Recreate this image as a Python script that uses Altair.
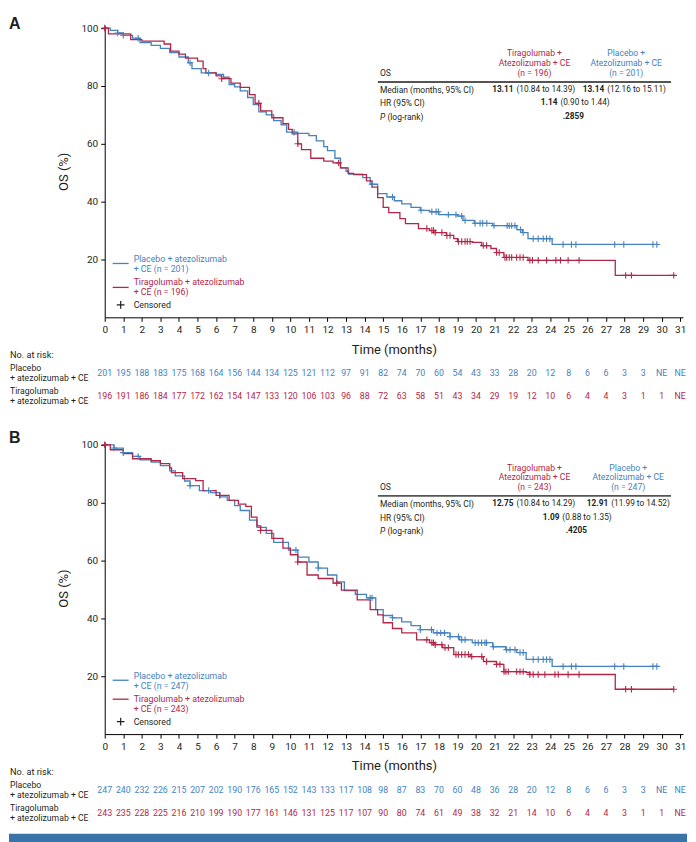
import bisect
import altair as alt
import pandas as pd

FONT = "Roboto"
BLUE = "#4682be"
RED = "#b22648"
INK = "#231f20"
BAR = "#3a73a8"
CROSS = "M0,-1L0,1M-1,0L1,0"

months = list(range(32))
y_ticks = [20, 40, 60, 80, 100]

# ---------------- Panel A data ----------------
A_pbo_curve = [(0, 100), (0.3, 99.2), (0.7, 98.3), (1.0, 97.5), (1.5, 96.5), (1.9, 95), (2.5, 94), (3.0, 93),
               (3.5, 91.5), (4.0, 90), (4.5, 88), (4.7, 86), (5.2, 84.5), (6.0, 84), (6.4, 83), (6.7, 80.5),
               (7.0, 79.7), (7.3, 78.3), (7.7, 76), (8.0, 73.5), (8.3, 71), (8.7, 70), (9.1, 68), (9.5, 66.5),
               (9.8, 64), (10.4, 63.6), (11.0, 62.8), (11.4, 61), (11.8, 59), (12.0, 57.6), (12.4, 55),
               (12.7, 51.7), (13.0, 50.5), (13.14, 49.5), (13.9, 48.3), (14.3, 46), (14.7, 42.8), (15.2, 41.6),
               (15.6, 40.3), (16.0, 39.2), (16.5, 38), (17.0, 37), (17.5, 36.5), (18.0, 35.5), (19.0, 35),
               (19.3, 33.5), (19.9, 32.5), (20.9, 31.7), (22.2, 30.3), (22.5, 29.3), (22.8, 27.2), (24.1, 25.2),
               (29.8, 25.2)]
A_tir_curve = [(0, 100), (0.2, 98), (1.4, 96), (2.0, 95.5), (3.2, 94.5), (3.55, 92), (4.0, 91), (4.35, 89.6),
               (5.0, 88.6), (5.3, 86), (5.45, 84.5), (6.0, 83.5), (6.3, 82.5), (6.8, 81), (7.3, 79.5), (7.8, 77),
               (8.1, 74), (8.4, 71.4), (9.0, 69), (9.6, 67), (9.9, 65), (10.1, 63.4), (10.4, 60), (10.6, 58),
               (11.1, 55), (11.8, 54), (12.3, 53.4), (12.7, 51.7), (13.11, 49.8), (13.4, 49.3), (14.1, 47.2),
               (14.4, 45), (14.7, 41.4), (15.0, 38), (15.3, 36.2), (15.9, 34.1), (16.2, 32.4), (16.9, 30.7),
               (17.5, 30), (17.8, 29.3), (18.4, 28.3), (18.8, 27.2), (19.0, 26.2), (19.8, 25.9), (20.3, 24.8),
               (20.8, 23.8), (21.1, 22.4), (21.5, 20.7), (22.8, 19.7), (27.5, 14.5), (30.65, 14.5)]
A_pbo_cens = [0.7, 1.0, 1.8, 4.6, 5.6, 10.2, 14.4, 15.5, 17.04, 17.62, 17.85, 17.97, 18.51, 18.92, 19.23, 19.41,
              19.95, 20.22, 20.36, 20.58, 20.97, 21.68, 21.79, 21.92, 22.1, 22.4, 22.54, 23.08, 23.35, 23.62,
              23.8, 23.98, 24.69, 25.14, 25.38, 27.47, 27.96, 29.53, 29.74]
A_tir_cens = [0.0, 6.3, 8.3, 10.4, 12.6, 17.35, 17.62, 17.71, 17.8, 18.16, 18.43, 18.6, 19.05, 19.23, 19.41,
              19.53, 19.68, 20.39, 20.57, 21.11, 21.25, 21.56, 21.65, 21.79, 21.92, 22.19, 22.37, 22.54, 22.9,
              23.04, 23.35, 23.8, 24.3, 24.55, 24.96, 25.55, 28.06, 28.37, 30.65]
A_pbo_risk = ["201", "195", "188", "183", "175", "168", "164", "156", "144", "134", "125", "121", "112", "97",
              "91", "82", "74", "70", "60", "54", "43", "33", "28", "20", "12", "8", "6", "6", "3", "3", "NE", "NE"]
A_tir_risk = ["196", "191", "186", "184", "177", "172", "162", "154", "147", "133", "120", "106", "103", "96",
              "88", "72", "63", "58", "51", "43", "34", "29", "19", "12", "10", "6", "4", "4", "3", "1", "1", "NE"]
A_n = (201, 196)
A_stats = {"tir_med": "13.11", "tir_ci": "(10.84 to 14.39)", "pbo_med": "13.14", "pbo_ci": "(12.16 to 15.11)",
           "hr": "1.14", "hr_ci": "(0.90 to 1.44)", "p": ".2859"}

# ---------------- Panel B data ----------------
B_pbo_curve = [(0, 100), (0.5, 98.9), (1.0, 97.3), (1.5, 96), (1.9, 94.8), (2.5, 94), (3.0, 92.8), (3.5, 91),
               (3.8, 89.3), (4.3, 87.5), (4.6, 85.9), (5.1, 84.2), (5.7, 83.5), (6.2, 82), (6.6, 80.8), (7.0, 79),
               (7.3, 77.3), (7.8, 74), (8.2, 71.5), (8.7, 69.4), (9.1, 66.3), (9.9, 63.6), (10.4, 61.2),
               (11.0, 59.5), (11.5, 57.4), (12.0, 55), (12.5, 52.6), (12.91, 49.6), (13.5, 48.3), (14.1, 47.1),
               (14.6, 43), (15.0, 41), (15.5, 40.2), (16.0, 38.8), (16.5, 37.5), (17.0, 36.1), (17.7, 35),
               (18.6, 33.7), (19.1, 32.6), (19.8, 31.6), (20.9, 30.2), (21.6, 29.2), (22.2, 28.2), (22.7, 25.8),
               (24.1, 23.4), (29.8, 23.4)]
B_tir_curve = [(0, 100), (0.3, 98.3), (1.0, 97), (1.5, 95.2), (2.5, 94.5), (3.0, 93.5), (3.5, 92), (3.6, 90.4),
               (4.2, 88.3), (4.9, 87.6), (5.3, 84.2), (6.0, 82.5), (6.7, 80.8), (7.2, 79.5), (7.6, 78.7),
               (7.9, 75), (8.2, 72), (8.4, 70.4), (9.0, 67.7), (9.6, 64.3), (10.0, 62), (10.4, 59.5), (10.9, 55),
               (11.5, 53.8), (12.3, 52.2), (12.75, 49.8), (13.6, 46.4), (14.3, 43), (14.7, 41.2), (15.0, 38.5),
               (15.5, 36.5), (16.0, 35), (16.8, 32.6), (17.5, 31.6), (17.8, 30.9), (18.2, 29.9), (18.8, 27.5),
               (19.7, 26.8), (20.4, 25.1), (21.1, 24.1), (21.5, 21.6), (22.7, 21.3), (22.9, 20.6), (27.5, 15.5),
               (30.65, 15.5)]
B_pbo_cens = [0.5, 1.0, 1.8, 4.6, 5.6, 10.3, 11.5, 14.3, 14.4, 15.5, 17.0, 17.6, 17.9, 18.1, 18.3, 18.6, 19.05,
              19.23, 19.41, 19.95, 20.12, 20.3, 20.48, 20.57, 20.93, 21.65, 21.83, 22.1, 22.37, 22.54, 23.08,
              23.35, 23.62, 23.8, 23.98, 24.69, 25.14, 25.38, 27.47, 27.96, 29.53, 29.74]
B_tir_cens = [0.0, 6.2, 8.4, 10.4, 12.5, 17.35, 17.62, 17.71, 17.8, 18.16, 18.33, 18.51, 18.92, 19.05, 19.23,
              19.41, 19.59, 19.77, 20.31, 20.57, 21.11, 21.29, 21.51, 21.61, 21.74, 22.19, 22.37, 22.54, 22.9,
              23.08, 23.35, 23.71, 24.25, 24.43, 24.96, 25.55, 28.06, 28.37, 30.65]
B_pbo_risk = ["247", "240", "232", "226", "215", "207", "202", "190", "176", "165", "152", "143", "133", "117",
              "108", "98", "87", "83", "70", "60", "48", "36", "28", "20", "12", "8", "6", "6", "3", "3", "NE", "NE"]
B_tir_risk = ["243", "235", "228", "225", "216", "210", "199", "190", "177", "161", "146", "131", "125", "117",
              "107", "90", "80", "74", "61", "49", "38", "32", "21", "14", "10", "6", "4", "4", "3", "1", "1", "NE"]
B_n = (247, 243)
B_stats = {"tir_med": "12.75", "tir_ci": "(10.84 to 14.29)", "pbo_med": "12.91", "pbo_ci": "(11.99 to 14.52)",
           "hr": "1.09", "hr_ci": "(0.88 to 1.35)", "p": ".4205"}

ONE = alt.Data(values=[{"k": 1}])
TS = 8.3   # table text size
LS = 8.8   # legend / row label size

xs = alt.Scale(domain=[0, 31.15], nice=False, zero=False)
ys = alt.Scale(domain=[0, 101], nice=False)
xaxis = alt.Axis(values=months, format="d", tickSize=4, labelFontSize=10, labelFont=FONT, labelColor=INK,
                 labelPadding=3, labelOverlap=False, labelFlush=False, domainColor="#000", tickColor="#000",
                 title="Time (months)", titleFont=FONT, titleFontSize=13, titleFontWeight="normal",
                 titleColor=INK, titlePadding=9, grid=False)
yaxis = alt.Axis(values=y_ticks, format="d", tickSize=4, labelFontSize=10, labelFont=FONT, labelColor=INK,
                 labelPadding=3, domainColor="#000", tickColor="#000", title="OS (%)", titleFont=FONT,
                 titleFontSize=13, titleFontWeight="normal", titleColor=INK, titlePadding=10, grid=False)


def X():
    return alt.X("t:Q", scale=xs, axis=xaxis)


def Y():
    return alt.Y("s:Q", scale=ys, axis=yaxis)


def txt(s, x, y, color=INK, size=TS, bold=False, italic=False, align="left", font=FONT):
    return alt.Chart(ONE).mark_text(
        text=s, align=align, baseline="middle", font=font, fontSize=size,
        fontWeight="bold" if bold else "normal", fontStyle="italic" if italic else "normal", color=color
    ).encode(x=alt.value(x), y=alt.value(y))


def hline(x1, x2, y, color, width):
    return alt.Chart(ONE).mark_rule(color=color, strokeWidth=width).encode(
        x=alt.value(x1), x2=alt.value(x2), y=alt.value(y))


def step_value(curve, t):
    ts = [p[0] for p in curve]
    i = bisect.bisect_right(ts, t) - 1
    return curve[max(i, 0)][1]


def curve_layer(curve, color):
    df = pd.DataFrame(curve, columns=["t", "s"])
    return alt.Chart(df).mark_line(interpolate="step-after", strokeWidth=1.3, color=color).encode(x=X(), y=Y())


def cens_layer(curve, cens, color):
    df = pd.DataFrame({"t": cens, "s": [step_value(curve, c) for c in cens]})
    return alt.Chart(df).mark_point(shape=CROSS, size=42, filled=False, strokeWidth=1.1, color=color,
                                    opacity=1).encode(x=X(), y=Y())


def risk_layer(vals, color, y):
    df = pd.DataFrame({"t": months, "n": vals})
    return alt.Chart(df).mark_text(font=FONT, fontSize=8.8, color=color, baseline="middle").encode(
        x=X(), y=alt.value(y), text="n:N")


def panel(letter, letter_y, pbo_curve, tir_curve, pbo_cens, tir_cens, pbo_risk, tir_risk, n, st, ty, red_leg_y,
          extra):
    n_pbo, n_tir = n
    layers = [
        curve_layer(pbo_curve, BLUE),
        curve_layer(tir_curve, RED),
        cens_layer(pbo_curve, pbo_cens, BLUE),
        cens_layer(tir_curve, tir_cens, RED),
        txt(letter, -96, letter_y, size=16, bold=True, font="Liberation Sans"),
        # legend
        hline(8, 24, 239, BLUE, 1.3),
        txt("Placebo + atezolizumab", 29, 234.5, BLUE, size=LS),
        txt(f"+ CE (n = {n_pbo})", 29, 244.5, BLUE, size=LS),
        hline(8, 24, red_leg_y, RED, 1.3),
        txt("Tiragolumab + atezolizumab", 29, 257.5, RED, size=LS),
        txt(f"+ CE (n = {n_tir})", 29, 267.5, RED, size=LS),
        alt.Chart(ONE).mark_point(shape=CROSS, size=60, filled=False, strokeWidth=1.2, color=INK,
                                  opacity=1).encode(x=alt.value(16), y=alt.value(280.5)),
        txt("Censored", 29, 280.5, size=LS),
        # table
        txt("Tiragolumab +", 431, ty[0], RED, size=8.6, align="center"),
        txt("Atezolizumab + CE", 431, ty[1], RED, size=8.6, align="center"),
        txt(f"(n = {n_tir})", 431, ty[2], RED, size=8.6, align="center"),
        txt("Placebo +", ty[8], ty[0], BLUE, size=8.6, align="center"),
        txt("Atezolizumab + CE", ty[8], ty[1], BLUE, size=8.6, align="center"),
        txt(f"(n = {n_pbo})", ty[8], ty[2], BLUE, size=8.6, align="center"),
        txt("OS", 276, ty[2], size=8.6),
        hline(274, 568, ty[3], "#555555", 1.8),
        txt("Median (months, 95% CI)", 276, ty[4], size=8.5),
        txt(st["tir_med"], 410, ty[4], bold=True, align="right"),
        txt(st["tir_ci"], 413, ty[4]),
        txt(st["pbo_med"], ty[9], ty[4], bold=True, align="right"),
        txt(st["pbo_ci"], ty[9] + 3, ty[4]),
        txt("HR (95% CI)", 276, ty[5], size=8.5),
        txt(st["hr"], ty[10], ty[5], bold=True, align="right"),
        txt(st["hr_ci"], ty[10] + 3, ty[5]),
        txt("P", 276, ty[6], italic=True, size=8.5),
        txt("(log-rank)", 283.5, ty[6], size=8.5),
        txt(st["p"], ty[11], ty[6], bold=True, align="center"),
        # at risk
        txt("No. at risk:", -95, 331, size=9.2),
        txt("Placebo", -95, 344, size=8.7),
        txt("+ atezolizumab + CE", -95, 354, size=8.7),
        txt("Tiragolumab", -95, 367, size=8.7),
        txt("+ atezolizumab + CE", -95, 377, size=8.7),
        risk_layer(pbo_risk, BLUE, 349),
        risk_layer(tir_risk, RED, 372),
    ] + extra
    return alt.layer(*layers).properties(width=580, height=293)


pA = panel("A", -1, A_pbo_curve, A_tir_curve, A_pbo_cens, A_tir_cens, A_pbo_risk, A_tir_risk, A_n, A_stats,
           [28, 38, 48, 57, 65, 78, 92, 0, 523, 501, 454, 470], 263,
           [hline(-96, 584, -15.5, "#ffffff", 1)])
pB = panel("B", -4, B_pbo_curve, B_tir_curve, B_pbo_cens, B_tir_cens, B_pbo_risk, B_tir_risk, B_n, B_stats,
           [26, 35.5, 45, 54, 62, 76, 89, 0, 525, 505, 456, 473], 258,
           [alt.Chart(ONE).mark_rect(color=BAR).encode(x=alt.value(-96), x2=alt.value(584),
                                                       y=alt.value(393), y2=alt.value(404))])

chart = alt.vconcat(pA, pB, spacing=125, bounds="flush").properties(
    padding={"left": 0, "top": 0, "right": 0, "bottom": 0}
).configure_view(stroke=None)

chart.save("out.html", embed_options={"renderer": "svg", "actions": False})
